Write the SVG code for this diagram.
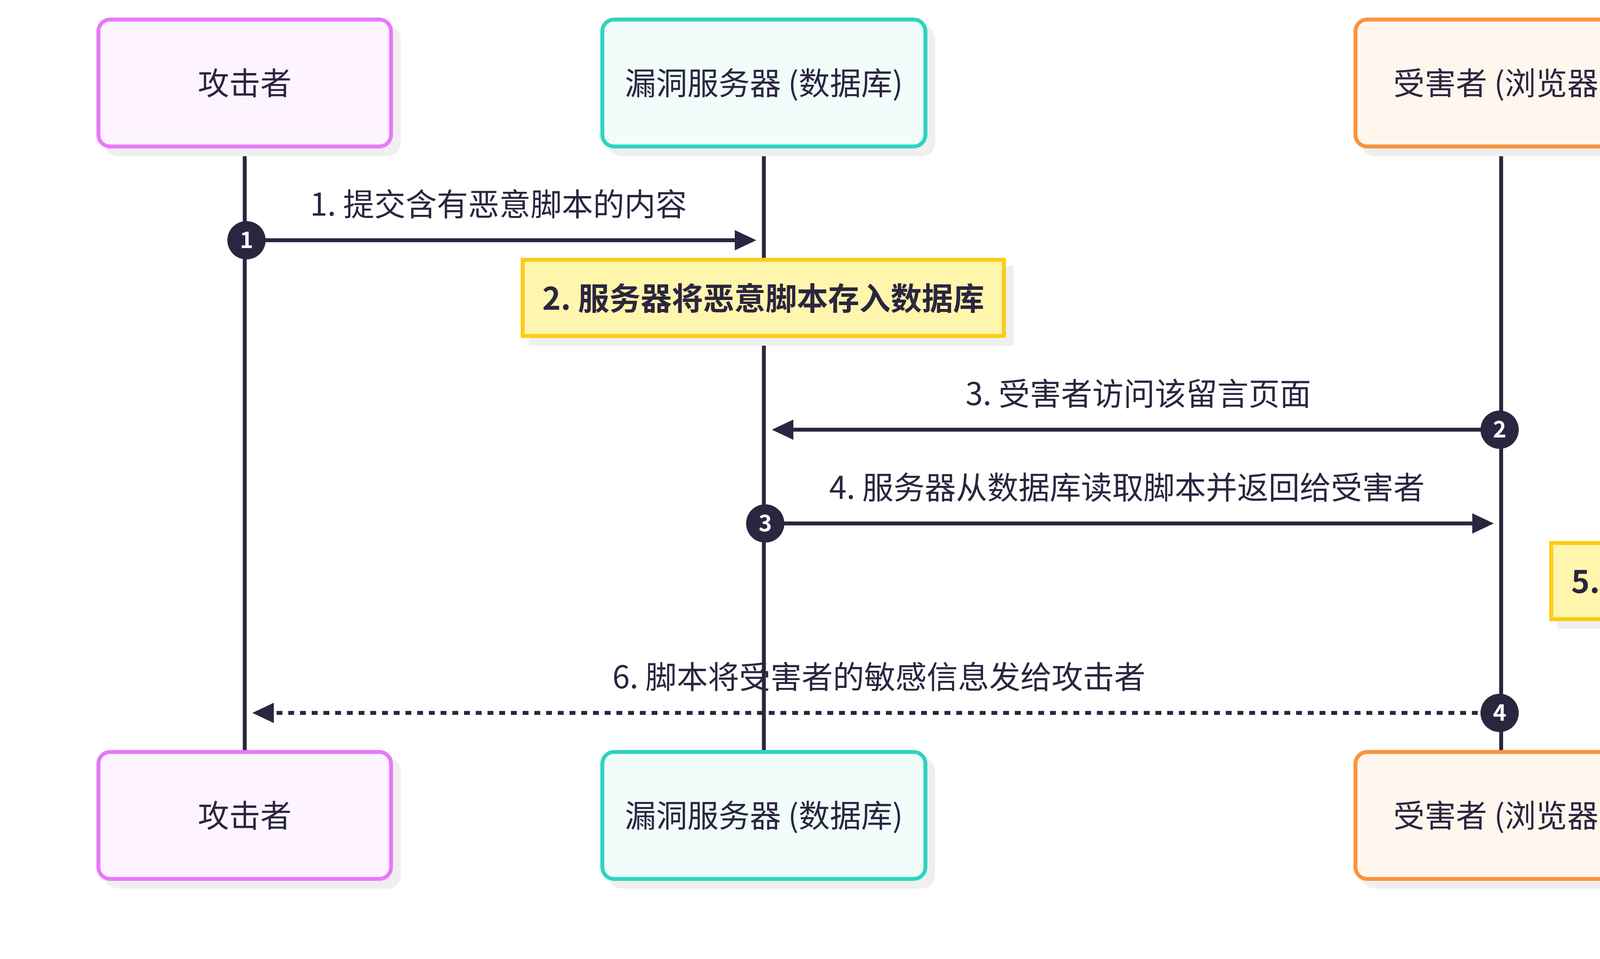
<svg xmlns="http://www.w3.org/2000/svg" width="5380" height="2455" viewBox="0 0 5380 2455">
<style>
text{font-family:"Noto Sans CJK SC","Noto Sans",sans-serif;fill:#2a2640}
.actor{stroke-width:10}
.shadow{fill:#efefef}
.lbl{font-size:80px;text-anchor:middle}
.note{fill:#fff5ad;stroke:#facc15;stroke-width:10}
.ntxt{font-size:80px;font-weight:700;text-anchor:middle}
.life{stroke:#2a2640;stroke-width:10}
.msg{stroke:#2a2640;stroke-width:10;fill:none}
.dot{stroke-dasharray:15 15}
.num{fill:#2a2640}
.numt{fill:#ffffff;font-size:58px;font-weight:700;text-anchor:middle}
</style>
<defs>
<marker id="ah" markerUnits="userSpaceOnUse" markerWidth="56" markerHeight="54" refX="0" refY="26" orient="auto" viewBox="0 0 56 52">
<path d="M0,0 L55,26 L0,52 Z" fill="#2a2640"/>
</marker>
</defs>
<rect width="5380" height="2455" fill="#ffffff"/>

<g id="lifelines">
<line class="life" x1="626.5" y1="375" x2="626.5" y2="1925"/>
<line class="life" x1="1955.5" y1="375" x2="1955.5" y2="1925"/>
<line class="life" x1="3843" y1="375" x2="3843" y2="1925"/>
</g>

<g id="attacker-top">
<rect class="shadow" x="267" y="65" width="759" height="335" rx="35"/>
<rect class="actor" x="252" y="50" width="749" height="325" rx="30" fill="#fdf4ff" stroke="#e879f9"/>
<text class="lbl" x="626.5" y="242">攻击者</text>
</g>
<g id="server-top">
<rect class="shadow" x="1557" y="65" width="837" height="335" rx="35"/>
<rect class="actor" x="1542" y="50" width="827" height="325" rx="30" fill="#f0fdfa" stroke="#2dd4bf"/>
<text class="lbl" x="1955.5" y="242">漏洞服务器 (数据库)</text>
</g>
<g id="victim-top">
<rect class="shadow" x="3485" y="65" width="756" height="335" rx="35"/>
<rect class="actor" x="3470" y="50" width="746" height="325" rx="30" fill="#fff7ed" stroke="#fb923c"/>
<text class="lbl" x="3843" y="242">受害者 (浏览器)</text>
</g>

<g id="attacker-bottom">
<rect class="shadow" x="267" y="1940" width="759" height="335" rx="35"/>
<rect class="actor" x="252" y="1925" width="749" height="325" rx="30" fill="#fdf4ff" stroke="#e879f9"/>
<text class="lbl" x="626.5" y="2117">攻击者</text>
</g>
<g id="server-bottom">
<rect class="shadow" x="1557" y="1940" width="837" height="335" rx="35"/>
<rect class="actor" x="1542" y="1925" width="827" height="325" rx="30" fill="#f0fdfa" stroke="#2dd4bf"/>
<text class="lbl" x="1955.5" y="2117">漏洞服务器 (数据库)</text>
</g>
<g id="victim-bottom">
<rect class="shadow" x="3485" y="1940" width="756" height="335" rx="35"/>
<rect class="actor" x="3470" y="1925" width="746" height="325" rx="30" fill="#fff7ed" stroke="#fb923c"/>
<text class="lbl" x="3843" y="2117">受害者 (浏览器)</text>
</g>

<g id="note-2">
<rect class="shadow" x="1353" y="680" width="1242" height="205"/>
<rect class="note" x="1338" y="665" width="1232" height="195"/>
<text class="ntxt" x="1954" y="793">2. 服务器将恶意脚本存入数据库</text>
</g>
<g id="note-5">
<rect class="shadow" x="3986" y="1405" width="1165" height="205"/>
<rect class="note" x="3971" y="1390" width="1155" height="195"/>
<text class="ntxt" x="4548" y="1518">5. 受害者浏览器自动执行脚本</text>
</g>

<g id="connectors">
<line class="msg" x1="626.5" y1="615" x2="1881" y2="615" marker-end="url(#ah)"/>
<text class="lbl" x="1276" y="552">1. 提交含有恶意脚本的内容</text>
<line class="msg" x1="3843" y1="1100" x2="2031" y2="1100" marker-end="url(#ah)"/>
<text class="lbl" x="2914" y="1037">3. 受害者访问该留言页面</text>
<line class="msg" x1="1955.5" y1="1340" x2="3769" y2="1340" marker-end="url(#ah)"/>
<text class="lbl" x="2885" y="1277">4. 服务器从数据库读取脚本并返回给受害者</text>
<line class="msg dot" x1="3843" y1="1825" x2="701" y2="1825" marker-end="url(#ah)"/>
<text class="lbl" x="2250" y="1762">6. 脚本将受害者的敏感信息发给攻击者</text>
</g>

<g id="autonumbers">
<circle class="num" cx="631" cy="615" r="49"/>
<text class="numt" x="631" y="635">1</text>
<circle class="num" cx="3839" cy="1100" r="49"/>
<text class="numt" x="3839" y="1120">2</text>
<circle class="num" cx="1959" cy="1340" r="49"/>
<text class="numt" x="1959" y="1360">3</text>
<circle class="num" cx="3839" cy="1825" r="49"/>
<text class="numt" x="3839" y="1845">4</text>
</g>
</svg>
